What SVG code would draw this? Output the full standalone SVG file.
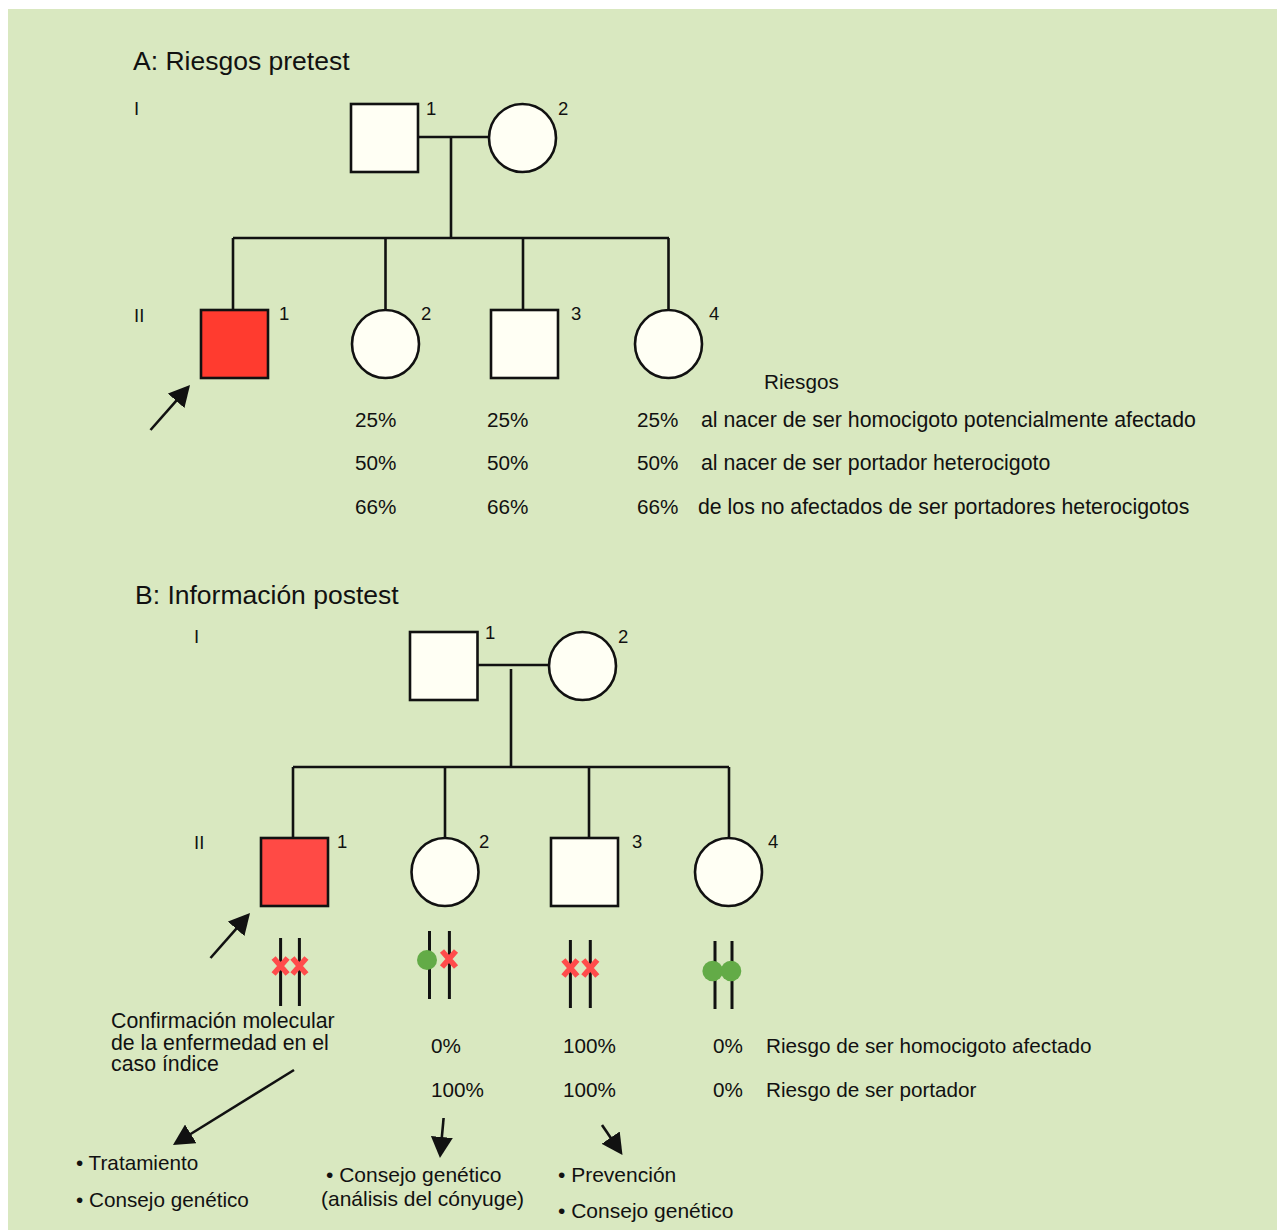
<svg xmlns="http://www.w3.org/2000/svg" width="1277" height="1230" viewBox="0 0 1277 1230">
<style>
text{font-family:"Liberation Sans",Arial,sans-serif;fill:#111}
.title{font-size:26.5px}
.gen{font-size:18.5px}
.num{font-size:18.5px}
.t{font-size:20.7px}
.tw{font-size:21.3px}
.tm{font-size:21px}
.node{fill:#fffff4;stroke:#111;stroke-width:2.6}
.aff{fill:#ff3b2f}
.affb{fill:#ff4a45}
.ln{fill:none;stroke:#111;stroke-width:2.6}
.arr{fill:none;stroke:#111;stroke-width:2.6;marker-end:url(#ah)}
.chr{stroke:#111;stroke-width:3}
.dot{fill:#63ab47}
</style>
<defs>
<marker id="ah" markerUnits="userSpaceOnUse" markerWidth="22" markerHeight="22" refX="4" refY="11" orient="auto">
<path d="M0,0 L21,11 L0,22 Z" fill="#111"/>
</marker>
<path id="x" d="M-7,-8 L7,8 M7,-8 L-7,8" fill="none" stroke="#ff4b4b" stroke-width="5.5"/>
</defs>
<rect x="8" y="9" width="1269" height="1221" fill="#d9e8c0"/>

<!-- PART A -->
<text class="title" x="133" y="70">A: Riesgos pretest</text>
<text class="gen" x="134" y="115">I</text>
<text class="gen" x="134" y="322">II</text>

<g id="connectors-a">
<path class="ln" d="M418,137 H489"/>
<path class="ln" d="M451,137 V238"/>
<path class="ln" d="M233,238 H669"/>
<path class="ln" d="M233,238 V310"/>
<path class="ln" d="M385.5,238 V310"/>
<path class="ln" d="M523,238 V310"/>
<path class="ln" d="M668.5,238 V310"/>
<path class="arr" d="M150.5,430 L178.8,397.8"/>
</g>

<g id="a-I-1"><rect class="node" x="351" y="104" width="67" height="68"/><text class="num" x="426" y="115">1</text></g>
<g id="a-I-2"><ellipse class="node" cx="522.5" cy="138" rx="33.5" ry="34"/><text class="num" x="558" y="115">2</text></g>
<g id="a-II-1"><rect class="node aff" x="201" y="310" width="67" height="68"/><text class="num" x="279" y="320">1</text></g>
<g id="a-II-2"><ellipse class="node" cx="385.5" cy="344" rx="33.5" ry="34"/><text class="num" x="421" y="320">2</text></g>
<g id="a-II-3"><rect class="node" x="491" y="310" width="67" height="68"/><text class="num" x="571" y="320">3</text></g>
<g id="a-II-4"><ellipse class="node" cx="668.5" cy="344" rx="33.5" ry="34"/><text class="num" x="709" y="320">4</text></g>

<g id="a-risks">
<text class="t" x="764" y="389">Riesgos</text>
<text class="t" x="355" y="427">25%</text><text class="t" x="487" y="427">25%</text><text class="t" x="637" y="427">25%</text>
<text class="tw" x="701" y="427">al nacer de ser homocigoto potencialmente afectado</text>
<text class="t" x="355" y="470">50%</text><text class="t" x="487" y="470">50%</text><text class="t" x="637" y="470">50%</text>
<text class="tw" x="701" y="470">al nacer de ser portador heterocigoto</text>
<text class="t" x="355" y="514">66%</text><text class="t" x="487" y="514">66%</text><text class="t" x="637" y="514">66%</text>
<text class="tw" x="698" y="514">de los no afectados de ser portadores heterocigotos</text>
</g>

<!-- PART B -->
<text class="title" x="135" y="604">B: Información postest</text>
<text class="gen" x="194" y="643">I</text>
<text class="gen" x="194" y="849">II</text>

<g id="connectors-b">
<path class="ln" d="M477,665 H549"/>
<path class="ln" d="M511,669 V767"/>
<path class="ln" d="M293,767 H729"/>
<path class="ln" d="M293,767 V838"/>
<path class="ln" d="M445,767 V838"/>
<path class="ln" d="M589,767 V838"/>
<path class="ln" d="M729,767 V838"/>
<path class="arr" d="M210.5,958 L238.8,925.8"/>
<path class="arr" d="M294,1070 L187.4,1136"/>
<path class="arr" d="M443.6,1118 L441.5,1141"/>
<path class="arr" d="M602,1125 L612.9,1141"/>
</g>

<g id="b-I-1"><rect class="node" x="410" y="632" width="67.5" height="68"/><text class="num" x="485" y="639">1</text></g>
<g id="b-I-2"><ellipse class="node" cx="582.5" cy="666" rx="33.5" ry="34"/><text class="num" x="618" y="643">2</text></g>
<g id="b-II-1"><rect class="node affb" x="261" y="838" width="67" height="68"/><text class="num" x="337" y="848">1</text></g>
<g id="b-II-2"><ellipse class="node" cx="445" cy="872" rx="33.5" ry="34"/><text class="num" x="479" y="848">2</text></g>
<g id="b-II-3"><rect class="node" x="551" y="838" width="67" height="68"/><text class="num" x="632" y="848">3</text></g>
<g id="b-II-4"><ellipse class="node" cx="728.5" cy="872" rx="33.5" ry="34"/><text class="num" x="768" y="848">4</text></g>

<g id="chromosomes">
<path class="chr" d="M280.6,938 V1006 M299.4,938 V1006"/>
<use href="#x" x="280.6" y="966"/><use href="#x" x="299.4" y="966"/>
<path class="chr" d="M429.5,931 V999 M449.4,931 V999"/>
<circle class="dot" cx="427" cy="960" r="10"/>
<use href="#x" x="449" y="959"/>
<path class="chr" d="M570.4,940 V1008 M590.3,940 V1008"/>
<use href="#x" x="570.4" y="968"/><use href="#x" x="590.3" y="968"/>
<path class="chr" d="M715,941 V1009 M732,941 V1009"/>
<circle class="dot" cx="712.7" cy="971" r="10.3"/>
<circle class="dot" cx="731" cy="971" r="10.3"/>
</g>

<g id="b-texts">
<text class="tw" x="111" y="1028">Confirmación molecular</text>
<text class="tw" x="111" y="1050">de la enfermedad en el</text>
<text class="tw" x="111" y="1071">caso índice</text>
<text class="t" x="431" y="1053">0%</text><text class="t" x="563" y="1053">100%</text><text class="t" x="713" y="1053">0%</text>
<text class="t" x="766" y="1053">Riesgo de ser homocigoto afectado</text>
<text class="t" x="431" y="1097">100%</text><text class="t" x="563" y="1097">100%</text><text class="t" x="713" y="1097">0%</text>
<text class="t" x="766" y="1097">Riesgo de ser portador</text>
<text class="t" x="76" y="1170">• Tratamiento</text>
<text class="t" x="76" y="1207">• Consejo genético</text>
<text class="tm" x="326" y="1182">• Consejo genético</text>
<text class="tm" x="321" y="1206">(análisis del cónyuge)</text>
<text class="tm" x="558" y="1182">• Prevención</text>
<text class="tm" x="558" y="1218">• Consejo genético</text>
</g>
</svg>
